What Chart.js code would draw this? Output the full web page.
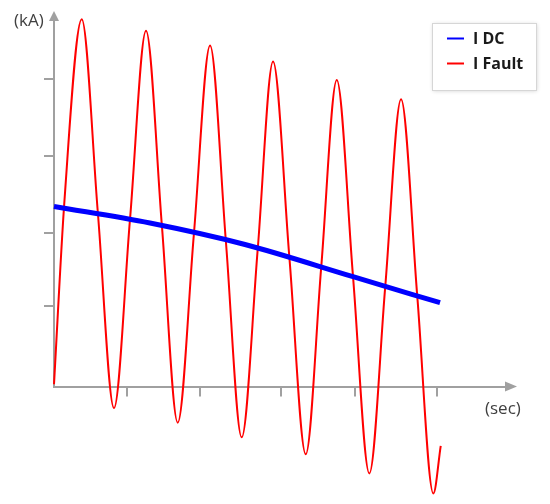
<!DOCTYPE html>
<html lang="en">
<head>
    <meta charset="UTF-8" />
    <title>Fault current</title>
    <script src="https://cdn.jsdelivr.net/npm/chart.js"></script>
    <style>
        html, body { margin: 0; padding: 0; background: #ffffff; }
        canvas { display: block; }
    </style>
</head>
<body>
    <canvas id="grafico" width="550" height="504"></canvas>

    <script>
        // values (time in tick units, current in tick units)
        var faultTime = [0, 0.137, 0.362, 0.573, 0.783, 0.992, 1.201, 1.409, 1.615, 1.826, 2.037, 2.244, 2.450,
            2.659, 2.859, 3.073, 3.286, 3.488, 3.691, 3.903, 4.116, 4.324, 4.530, 4.742, 4.952, 5.048];
        var faultCurrent = [0.03, 2.42, 4.77, 2.25, -0.28, 2.17, 4.62, 2.08, -0.47, 1.98, 4.43, 1.88, -0.66,
            1.78, 4.22, 1.67, -0.88, 1.55, 3.98, 1.43, -1.13, 1.30, 3.73, 1.17, -1.39, -0.77];

        var dcTime = [0, 1.253, 2.493, 3.903, 5.039];
        var dcCurrent = [2.338, 2.123, 1.844, 1.426, 1.088];

        var xTickValues = [0.953, 1.906, 2.963, 3.930, 5.0];
        var yTickValues = [1.05, 2, 3, 4];

        var seriesLabels = ['I DC', 'I Fault'];
        var xTitle = '(sec)';
        var yTitle = '(kA)';

        var axisColor = '#a0a0a0';

        function toPoints(xs, ys) {
            return xs.map(function (x, i) { return { x: x, y: ys[i] }; });
        }

        // arrows, axis names and the boxed legend
        var extras = {
            id: 'extras',
            afterDraw: function (chart) {
                var ctx = chart.ctx;
                var area = chart.chartArea;
                ctx.save();

                ctx.fillStyle = axisColor;
                ctx.beginPath();
                ctx.moveTo(area.left, area.top - 9);
                ctx.lineTo(area.left - 5, area.top + 1);
                ctx.lineTo(area.left + 5, area.top + 1);
                ctx.closePath();
                ctx.fill();

                ctx.beginPath();
                ctx.moveTo(area.right + 11, area.bottom);
                ctx.lineTo(area.right - 1, area.bottom - 5);
                ctx.lineTo(area.right - 1, area.bottom + 5);
                ctx.closePath();
                ctx.fill();

                ctx.fillStyle = '#404040';
                ctx.font = '17px "Open Sans"';
                ctx.textBaseline = 'middle';
                ctx.textAlign = 'left';
                ctx.fillText(yTitle, 14, 21);
                ctx.fillText(xTitle, 485, 409);

                // legend box
                ctx.save();
                ctx.shadowColor = 'rgba(0,0,0,0.18)';
                ctx.shadowBlur = 4;
                ctx.shadowOffsetX = 1;
                ctx.shadowOffsetY = 1;
                ctx.fillStyle = '#ffffff';
                ctx.fillRect(432, 23, 104, 67);
                ctx.restore();
                ctx.strokeStyle = '#d6d6d6';
                ctx.lineWidth = 1;
                ctx.strokeRect(432.5, 23.5, 104, 67);

                ctx.font = 'bold 16px "Open Sans"';
                chart.data.datasets.forEach(function (ds, i) {
                    var y = 38.5 + i * 25;
                    ctx.strokeStyle = ds.borderColor;
                    ctx.lineWidth = 2;
                    ctx.beginPath();
                    ctx.moveTo(447, y);
                    ctx.lineTo(464, y);
                    ctx.stroke();
                    ctx.fillStyle = '#1a1a1a';
                    ctx.fillText(ds.label, 473, y + 1);
                });

                ctx.restore();
            }
        };

        new Chart(document.getElementById('grafico'), {
            type: 'line',
            data: {
                datasets: [{
                    label: seriesLabels[0],
                    data: toPoints(dcTime, dcCurrent),
                    borderColor: '#0000ff',
                    borderWidth: 5,
                    borderCapStyle: 'butt',
                    pointRadius: 0,
                    cubicInterpolationMode: 'monotone',
                    clip: false
                }, {
                    label: seriesLabels[1],
                    data: toPoints(faultTime, faultCurrent),
                    borderColor: '#ff0000',
                    borderWidth: 2,
                    pointRadius: 0,
                    cubicInterpolationMode: 'monotone',
                    clip: false
                }]
            },
            options: {
                responsive: false,
                animation: false,
                layout: { padding: { left: 54, top: 20, right: 44, bottom: 117.5 } },
                plugins: {
                    legend: { display: false },
                    tooltip: { enabled: false }
                },
                scales: {
                    x: {
                        type: 'linear',
                        min: 0,
                        max: 5.9,
                        border: { color: axisColor, width: 2 },
                        grid: { drawOnChartArea: false, drawTicks: true, tickLength: 10, color: axisColor, lineWidth: 2 },
                        ticks: { display: false },
                        afterBuildTicks: function (scale) {
                            scale.ticks = xTickValues.map(function (v) { return { value: v }; });
                        },
                        afterFit: function (scale) { scale.height = 0; }
                    },
                    y: {
                        type: 'linear',
                        min: 0,
                        max: 4.76,
                        border: { color: axisColor, width: 2 },
                        grid: { drawOnChartArea: false, drawTicks: true, tickLength: 10, color: axisColor, lineWidth: 2 },
                        ticks: { display: false },
                        afterBuildTicks: function (scale) {
                            scale.ticks = yTickValues.map(function (v) { return { value: v }; });
                        },
                        afterFit: function (scale) { scale.width = 0; }
                    }
                }
            },
            plugins: [extras]
        });
    </script>
</body>
</html>
